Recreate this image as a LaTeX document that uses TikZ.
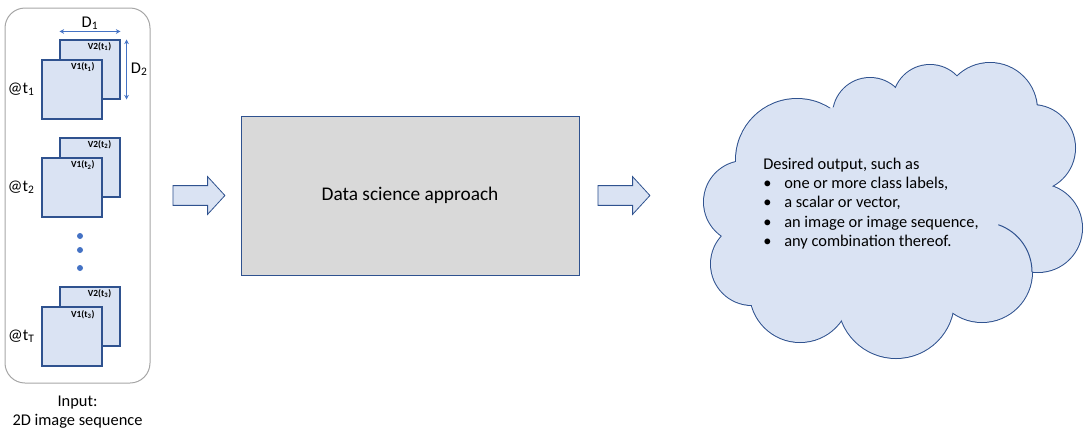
\documentclass[tikz,border=0pt]{standalone}
\usepackage{fontspec}
\setmainfont{Carlito}
\usetikzlibrary{positioning,shapes.arrows,arrows.meta}

\definecolor{paleblue}{HTML}{DAE3F3}
\definecolor{edgeblue}{HTML}{2F528F}
\definecolor{midblue}{HTML}{4472C4}
\definecolor{boxgray}{HTML}{D9D9D9}
\definecolor{framegray}{HTML}{A6A6A6}

\tikzset{
  frame/.style={rectangle,draw=edgeblue,fill=paleblue,line width=0.8pt,minimum width=45pt,minimum height=44.25pt,inner sep=0pt},
  vlabel/.style={font=\bfseries\fontsize{7}{8}\selectfont,inner sep=0pt},
  timelabel/.style={font=\fontsize{12.3}{14.4}\selectfont,inner sep=0pt,text=black},
  dimarrow/.style={midblue,line width=0.6pt,{Stealth[length=3.5pt,width=3.5pt]}-{Stealth[length=3.5pt,width=3.5pt]}},
  blockarrow/.style={single arrow,draw=edgeblue,fill=paleblue,line width=0.6pt,minimum height=39pt,inner xsep=0pt,inner ysep=7.1pt,single arrow head extend=6.75pt,single arrow tip angle=95},
  container/.style={rectangle,draw=framegray,rounded corners=15pt,line width=0.75pt,minimum width=108.75pt,minimum height=281.25pt},
  process/.style={rectangle,draw=edgeblue,fill=boxgray,line width=0.75pt,minimum width=253.5pt,minimum height=119.25pt,font=\fontsize{14.5}{17}\selectfont},
  plain/.style={font=\fontsize{12.3}{14.4}\selectfont,inner sep=0pt,align=center},
  cloudtext/.style={font=\fontsize{12.3}{14.4}\selectfont,inner sep=0pt,align=left}
}

\begin{document}
\begin{tikzpicture}[x=0.75pt,y=0.75pt]
\useasboundingbox (0,0) rectangle (1085,-436);

% input sequence
\node[container] (input) at (77.5,-195.5) {};
\node[plain,below=9pt of input] (caption) {Input:\\2D image sequence};

\foreach \i/\yy/\ts/\tl in {1/69.5/1/1,2/167.5/2/2,3/316.5/3/T}{
  \node[frame] (back\i) at (90,-\yy) {};
  \node[vlabel,anchor=north east] (vtwo\i) at ([xshift=-6.75pt,yshift=-2.25pt]back\i.north east) {V2(t\textsubscript{\ts})};
  \node[frame] (front\i) at (72,-\yy-20) {};
  \node[vlabel,anchor=north east] (vone\i) at ([xshift=-5.8pt,yshift=-2.5pt]front\i.north east) {V1(t\textsubscript{\ts})};
  \node[timelabel,left=5pt of front\i] (at\i) {@t\textsubscript{\tl}};
}

\foreach \d in {236,250,268}
  \fill[midblue] (80,-\d) circle[radius=3];

\draw[dimarrow] ([yshift=6pt]back1.north west) -- ([yshift=6pt]back1.north east)
  node[midway,above=1pt,timelabel] (done) {D\textsubscript{1}};
\draw[dimarrow] ([xshift=4.5pt]back1.north east) -- ([xshift=4.5pt]back1.south east)
  node[midway,right=3pt,timelabel] (dtwo) {D\textsubscript{2}};

% processing
\node[blockarrow,right=16.5pt of input] (arrowin) {};
\node[process] (ds) at (410,-195.5) {Data science approach};
\node[blockarrow,right=13.5pt of ds] (arrowout) {};

% output cloud
\foreach \cx/\cy/\r in {745/202/41,752/264/41,800/292/50,896/300/58,982/272/50,1038/228/44,1032/148/43,990/110/47,930/102/37,870/115/37,797/160/61}
  \filldraw[fill=paleblue,draw=edgeblue,line width=1.5pt] (\cx,-\cy) circle[radius=\r];
\foreach \cx/\cy/\r in {745/202/41,752/264/41,800/292/50,896/300/58,982/272/50,1038/228/44,1032/148/43,990/110/47,930/102/37,870/115/37,797/160/61}
  \fill[paleblue] (\cx,-\cy) circle[radius=\r];
\fill[paleblue] (890,-200) ellipse[x radius=150,y radius=100];
\draw[edgeblue,line width=0.75pt] (982,-272) ++(71:50) arc[start angle=71,end angle=0,radius=50];

\node[cloudtext,anchor=west] (out) at (763,-203.5) {Desired output, such as\\
\makebox[15.75pt][l]{\textbullet}one or more class labels,\\
\makebox[15.75pt][l]{\textbullet}a scalar or vector,\\
\makebox[15.75pt][l]{\textbullet}an image or image sequence,\\
\makebox[15.75pt][l]{\textbullet}any combination thereof.};

\end{tikzpicture}
\end{document}
